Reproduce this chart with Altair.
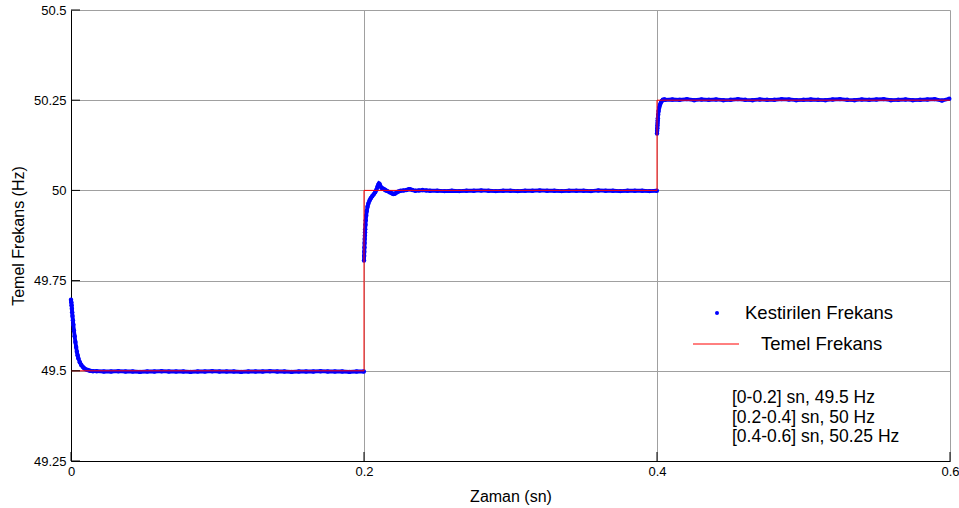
import altair as alt
import numpy as np
import pandas as pd

# ---------------- data ----------------
X_TICKS = [0, 0.2, 0.4, 0.6]
Y_TICKS = [49.25, 49.5, 49.75, 50, 50.25, 50.5]

# reference (true) fundamental frequency: step profile
REF_T = [0.0, 0.2, 0.2, 0.4, 0.4, 0.6]
REF_F = [49.5, 49.5, 50.0, 50.0, 50.25, 50.25]

# estimated frequency, segment 1 transient (0 - 0.2 s)
S1_T = [0.0, 0.0002, 0.0004, 0.0006, 0.0008, 0.0010, 0.0013, 0.0016, 0.0020, 0.0025,
        0.0030, 0.0035, 0.0040, 0.0045, 0.0050, 0.0060, 0.0070, 0.0080, 0.0090, 0.0100,
        0.0115, 0.0130, 0.0150]
S1_F = [49.697, 49.690, 49.682, 49.672, 49.662, 49.652, 49.640, 49.628, 49.612, 49.596,
        49.580, 49.566, 49.553, 49.543, 49.535, 49.524, 49.516, 49.511, 49.507, 49.504,
        49.502, 49.500, 49.499]
S1_STEADY = [49.499, 49.498, 49.498, 49.499, 49.498, 49.498, 49.497, 49.498, 49.498, 49.499,
             49.498, 49.498, 49.498, 49.497, 49.498, 49.498, 49.499, 49.498, 49.498, 49.498,
             49.497, 49.498, 49.498, 49.498, 49.499, 49.498, 49.498, 49.497, 49.498, 49.498,
             49.498, 49.499, 49.498, 49.498, 49.498, 49.497, 49.498, 49.498]

# segment 2 transient (0.2 - 0.4 s)
S2_T = [0.2000, 0.2001, 0.2002, 0.2003, 0.2004, 0.2005, 0.2006, 0.2007, 0.2008, 0.2010,
        0.2012, 0.2015, 0.2019, 0.2024, 0.2030, 0.2038, 0.2046, 0.2056, 0.2066, 0.2076,
        0.2085, 0.2092, 0.2098, 0.2102, 0.2107, 0.2113, 0.2120, 0.2127, 0.2134, 0.2142,
        0.2150, 0.2160, 0.2175, 0.2190, 0.2200, 0.2210, 0.2222, 0.2235, 0.2250, 0.2270,
        0.2290, 0.2305, 0.2315, 0.2330, 0.2350, 0.2375, 0.2400, 0.2425]
S2_F = [49.806, 49.818, 49.830, 49.842, 49.854, 49.865, 49.875, 49.884, 49.892, 49.905,
        49.917, 49.930, 49.943, 49.955, 49.964, 49.972, 49.978, 49.984, 49.989, 49.995,
        50.002, 50.010, 50.016, 50.019, 50.017, 50.011, 50.007, 50.005, 50.004, 50.002,
        50.000, 49.998, 49.995, 49.992, 49.990, 49.991, 49.994, 49.997, 49.999, 50.000,
        50.001, 50.003, 50.003, 50.001, 49.999, 50.000, 50.001, 50.000]
S2_STEADY = [49.999, 49.999, 49.998, 49.999, 49.998, 49.999, 49.999, 50.000, 49.999, 49.998,
             49.999, 49.999, 49.998, 49.999, 49.999, 50.000, 49.999, 49.999, 49.998, 49.999,
             49.999, 49.999, 49.998, 50.000, 49.999, 49.999, 49.998, 49.999, 49.999, 49.999,
             49.998, 49.999]

# segment 3 transient (0.4 - 0.6 s)
S3_T = [0.4000, 0.4001, 0.4002, 0.4003, 0.4004, 0.4005, 0.4006, 0.4008, 0.4011, 0.4015,
        0.4020, 0.4026, 0.4033, 0.4040, 0.4050]
S3_F = [50.158, 50.165, 50.172, 50.180, 50.187, 50.194, 50.200, 50.210, 50.220, 50.229,
        50.237, 50.243, 50.248, 50.251, 50.252]
S3_STEADY = [50.251, 50.252, 50.251, 50.253, 50.250, 50.252, 50.251, 50.252, 50.250, 50.251,
             50.253, 50.251, 50.250, 50.252, 50.251, 50.251, 50.253, 50.252, 50.250, 50.251,
             50.252, 50.251, 50.250, 50.252, 50.253, 50.251, 50.250, 50.252, 50.251, 50.252,
             50.253, 50.250, 50.251, 50.252, 50.250, 50.251, 50.252, 50.253, 50.249, 50.254]

LEGEND_LABELS = ["Kestirilen Frekans", "Temel Frekans"]
NOTE_LINES = ["[0-0.2] sn, 49.5 Hz", "[0.2-0.4] sn, 50 Hz", "[0.4-0.6] sn, 50.25 Hz"]
X_TITLE = "Zaman (sn)"
Y_TITLE = "Temel Frekans (Hz)"

# ---------------- tables ----------------
rows = []
segs = [
    (S1_T, S1_F, S1_STEADY, 0.0175, 0.1999),
    (S2_T, S2_F, S2_STEADY, 0.2450, 0.3999),
    (S3_T, S3_F, S3_STEADY, 0.4055, 0.5995),
]
for k, (tt, ff, steady, t0, t1) in enumerate(segs):
    times = list(tt) + list(np.linspace(t0, t1, len(steady)))
    vals = list(ff) + list(steady)
    for i, (a, b) in enumerate(zip(times, vals)):
        rows.append({"t": float(a), "f": float(b), "seg": k, "i": i})
est = pd.DataFrame(rows)
ref = pd.DataFrame({"t": REF_T, "f": REF_F, "i": list(range(len(REF_T)))})
xt = pd.DataFrame({"t": X_TICKS})
yt = pd.DataFrame({"f": Y_TICKS})

FONT = "Liberation Sans"
BLUE = "#0000ff"
RED = "#ff0000"

x_enc = alt.X(
    "t:Q",
    scale=alt.Scale(domain=[0, 0.6], nice=False, zero=False),
    axis=alt.Axis(
        values=X_TICKS, labelExpr="format(datum.value, '~g')", title=X_TITLE,
        grid=True, gridColor="#a0a0a0", gridWidth=1, ticks=False,
        domainColor="#000000", domainWidth=1, labelPadding=4, labelFontSize=13,
        labelColor="#000000", labelFont=FONT, titleFont=FONT, titleFontSize=16,
        titleFontWeight="normal", titleColor="#000000", titleY=40,
        titleBaseline="alphabetic", labelFlush=False,
    ),
)
y_enc = alt.Y(
    "f:Q",
    scale=alt.Scale(domain=[49.25, 50.5], nice=False, zero=False),
    axis=alt.Axis(
        values=Y_TICKS, labelExpr="format(datum.value, '~g')", title=Y_TITLE,
        grid=True, gridColor="#a0a0a0", gridWidth=1, ticks=False,
        domainColor="#000000", domainWidth=1, labelPadding=5, labelFontSize=13,
        labelColor="#000000", labelFont=FONT, titleFont=FONT, titleFontSize=16,
        titleFontWeight="normal", titleColor="#000000", titleX=-45, titleY=225.5,
        titleBaseline="bottom", labelFlush=False,
    ),
)

est_line = alt.Chart(est).mark_line(color=BLUE, strokeWidth=3.8).encode(
    x=x_enc, y=y_enc, detail="seg:N", order="i:Q"
)
est_pts = alt.Chart(est).mark_circle(color=BLUE, size=20, opacity=1).encode(
    x=x_enc, y=y_enc
)
ref_line = alt.Chart(ref).mark_line(color=RED, strokeWidth=1).encode(
    x=x_enc, y=y_enc, order="i:Q"
)
xticks = alt.Chart(xt).mark_rule(color="#000000", strokeWidth=1).encode(
    x=x_enc, y=alt.value(451), y2=alt.value(442)
)
yticks = alt.Chart(yt).mark_rule(color="#000000", strokeWidth=1).encode(
    y=y_enc, x=alt.value(0), x2=alt.value(9)
)

one = pd.DataFrame({"a": [0]})
leg_dot = alt.Chart(one).mark_circle(color=BLUE, size=16, opacity=1).encode(
    x=alt.value(646), y=alt.value(303)
)
leg_txt1 = alt.Chart(one).mark_text(
    align="left", baseline="middle", font=FONT, fontSize=18.5, color="#000000"
).encode(x=alt.value(674), y=alt.value(303), text=alt.value(LEGEND_LABELS[0]))
leg_rule = alt.Chart(one).mark_rule(color=RED, strokeWidth=1).encode(
    x=alt.value(622), x2=alt.value(668), y=alt.value(334)
)
leg_txt2 = alt.Chart(one).mark_text(
    align="left", baseline="middle", font=FONT, fontSize=18.5, color="#000000"
).encode(x=alt.value(690), y=alt.value(334), text=alt.value(LEGEND_LABELS[1]))
note = alt.Chart(one).mark_text(
    align="left", baseline="middle", font=FONT, fontSize=17.5, color="#000000",
    lineBreak="\n", lineHeight=19.5,
).encode(x=alt.value(661), y=alt.value(388), text=alt.value("\n".join(NOTE_LINES)))

chart = alt.layer(
    est_line, est_pts, ref_line, xticks, yticks,
    leg_dot, leg_txt1, leg_rule, leg_txt2, note,
).properties(
    width=879, height=451,
    autosize=alt.AutoSizeParams(type="none"),
    padding={"left": 71, "top": 10, "right": 9, "bottom": 47},
    background="#ffffff",
).configure_view(strokeWidth=0)

chart.save("out.html", embed_options={"renderer": "svg", "actions": False})
